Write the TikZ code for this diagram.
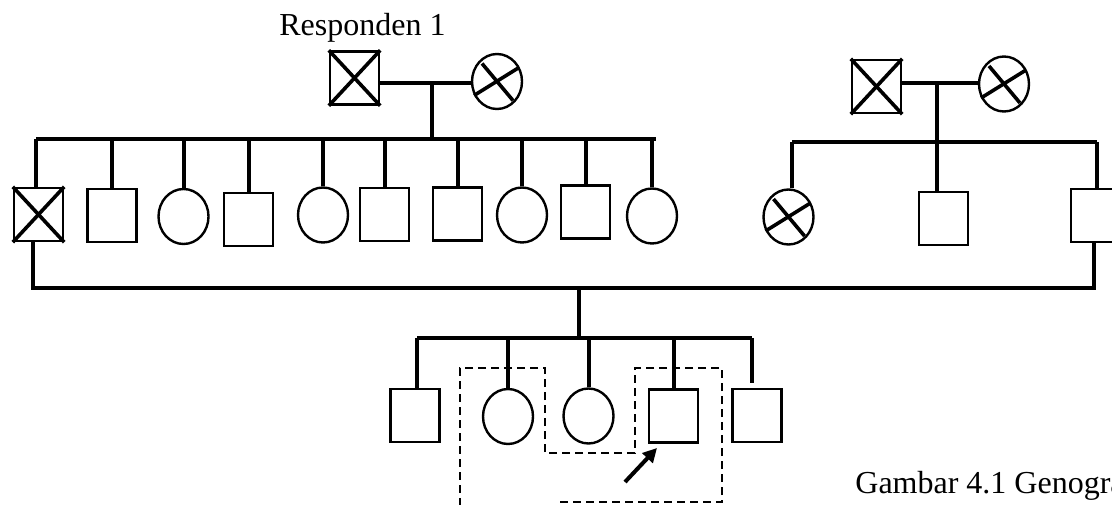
\documentclass[tikz,border=0pt]{standalone}
\usepackage{fontspec}
\setmainfont{Liberation Serif}
\usetikzlibrary{shapes.geometric,arrows.meta}
\begin{document}
\begin{tikzpicture}[x=0.5pt,y=-0.5pt,
  male/.style={draw,rectangle,line width=1.2pt,minimum width=24.5pt,minimum height=26.5pt,inner sep=0pt},
  female/.style={draw,ellipse,line width=1.2pt,minimum width=25pt,minimum height=27.5pt,inner sep=0pt},
  link/.style={line width=2pt},
  marr/.style={line width=1.6pt},
  xline/.style={line width=1.8pt},
  dashbox/.style={line width=1pt,dash pattern=on 4pt off 2.5pt},
  lbl/.style={font=\fontsize{16}{19}\selectfont,inner sep=0pt,anchor=base west},
  pointer/.style={line width=2pt,-{Triangle[length=7pt,width=7pt]}}
]
\path[use as bounding box] (0,0) rectangle (1112,504);
\clip (0,0) rectangle (1112,504);

\newcommand\circx[1]{%
  \draw[xline] ([shift={(-15,-18)}]#1.center) -- ([shift={(16,19)}]#1.center);
  \draw[xline] ([shift={(-23,14)}]#1.center) -- ([shift={(22,-14)}]#1.center);}
\newcommand\sqx[1]{%
  \draw[xline] (#1.north west) -- (#1.south east) (#1.north east) -- (#1.south west);}

% labels
\node[lbl] (t1) at (279,35) {Responden 1};
\node[lbl] (t2) at (855,493) {Gambar 4.1 Genogram};

% grandparents left
\node[male] (gf1) at (354.5,78) {};
\node[female] (gm1) at (497,81.5) {};
\sqx{gf1} \circx{gm1}
% grandparents right
\node[male] (gf2) at (876.5,86.5) {};
\node[female] (gm2) at (1004,84) {};
\sqx{gf2} \circx{gm2}

% generation 2 left
\node[male] (c1) at (38.5,214.5) {};
\node[male] (c2) at (112,215.5) {};
\node[female] (c3) at (183.5,216.5) {};
\node[male] (c4) at (248.5,219.5) {};
\node[female] (c5) at (323,215) {};
\node[male] (c6) at (384.5,214.5) {};
\node[male] (c7) at (457.5,214) {};
\node[female] (c8) at (522,215) {};
\node[male] (c9) at (585.5,212) {};
\node[female] (c10) at (652,216) {};
\sqx{c1}
% generation 2 right
\node[female] (r1) at (788.5,217) {};
\node[male] (r2) at (943.5,218.5) {};
\node[male] (r3) at (1095.5,215.5) {};
\circx{r1}

% generation 3
\node[male] (k1) at (415,415.5) {};
\node[female] (k2) at (508,416.5) {};
\node[female] (k3) at (588.5,416) {};
\node[male] (k4) at (673.5,416) {};
\node[male] (k5) at (757,415.5) {};

% coordinates
\coordinate (m1) at (431.7,83);
\coordinate (s1L) at (36,139);
\coordinate (s1R) at (656,139);
\coordinate (m2) at (937,83);
\coordinate (s2L) at (792,142);
\coordinate (s2R) at (1097,142);
\coordinate (bL) at (33,288);
\coordinate (bR) at (1094,288);
\coordinate (m3) at (579,288);
\coordinate (s3L) at (417,338);
\coordinate (s3R) at (752,338);
\coordinate (s3) at (579,338);

% left family
\draw[marr] (gf1.east |- m1) -- (m1) -- (gm1.west |- m1);
\draw[link] (m1) -- (m1 |- s1L);
\draw[link] (s1L) -- (s1R);
\draw[link] (s1L) -- (s1L |- c1.north);
\foreach \c in {c2,c3,c4,c5,c6,c7,c8,c9,c10}
  \draw[link] (\c.north) -- (\c.north |- s1L);

% right family
\draw[marr] (gf2.east |- m2) -- (m2) -- (gm2.west |- m2);
\draw[link] (m2) -- (m2 |- r2.north);
\draw[link] (s2L) -- (s2R);
\draw[link] (s2L) -- (s2L |- r1.north);
\draw[link] (s2R) -- (s2R |- r3.north);

% marriage of c1 and r3
\draw[link] (bL |- c1.south) -- (bL) -- (bR) -- (bR |- r3.south);

% children
\draw[link] (m3) -- (s3);
\draw[link] (s3L) -- (s3R);
\draw[link] (s3L) -- (s3L |- k1.north);
\foreach \c in {k2,k3,k4}
  \draw[link] (\c.north) -- (\c.north |- s3L);
\draw[link,shorten >=2.5pt] (s3R) -- (s3R |- k5.north);

% dashed household outline
\draw[dashbox] (560,502) -- (722,502) -- (722,368) -- (635,368) -- (635,453)
  -- (545,453) -- (545,368) -- (460,368) -- (460,515);

% pointer to index person
\coordinate (at) at (625,482);
\coordinate (ah) at (657,448);
\draw[pointer] (at) -- (ah);
\end{tikzpicture}
\end{document}
